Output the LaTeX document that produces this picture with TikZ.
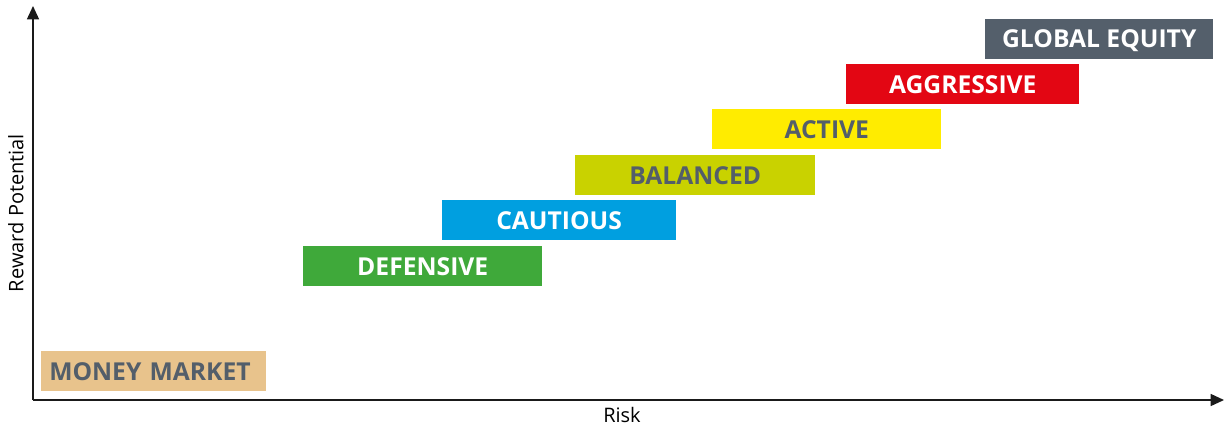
\documentclass[tikz,border=0pt]{standalone}
\usepackage{fontspec}
\setmainfont{Open Sans}
\usetikzlibrary{arrows.meta}
\definecolor{mmcol}{HTML}{E8C38C}
\definecolor{defcol}{HTML}{3FA93A}
\definecolor{caucol}{HTML}{009FE0}
\definecolor{balcol}{HTML}{C9D200}
\definecolor{actcol}{HTML}{FFEC00}
\definecolor{aggcol}{HTML}{E30613}
\definecolor{glocol}{HTML}{545F6B}
\definecolor{darktxt}{HTML}{535E6A}
\definecolor{axiscol}{HTML}{1A1A1A}
\tikzset{
  fundbox/.style={rectangle, inner sep=0pt, minimum height=30pt, anchor=north west,
    font=\fontsize{18.5}{20}\selectfont\bfseries, text height=13.2pt, text depth=0pt},
  axisline/.style={draw=axiscol, line width=1.1pt, -{Triangle[length=10pt,width=9pt]}},
  axislabel/.style={font=\fontsize{15}{17}\selectfont, text=black}
}
\begin{document}
\begin{tikzpicture}[x=0.75pt, y=-0.75pt]
\useasboundingbox (0,0) rectangle (1224,428);
\coordinate (origin) at (33,400);
\coordinate (ytip) at (33,6);
\coordinate (xtip) at (1224,400);
\draw[axisline] (origin) -- (ytip);
\draw[axisline] (origin) -- (xtip);
\node[axislabel] (risk) at (622,415) {Risk};
\node[axislabel, rotate=90] (reward) at (16,213) {Reward Potential};
\node[fundbox, fill=mmcol, text=darktxt, align=left, inner xsep=6pt, text width=156.75pt] (mm) at (41,351) {MONEY MARKET};
\node[fundbox, fill=defcol, text=white, minimum width=179.25pt] (def) at (303,246) {DEFENSIVE};
\node[fundbox, fill=caucol, text=white, minimum width=175.25pt] (cau) at (442,200) {CAUTIOUS};
\node[fundbox, fill=balcol, text=darktxt, minimum width=180pt] (bal) at (575,155) {BALANCED};
\node[fundbox, fill=actcol, text=darktxt, minimum width=171.75pt] (act) at (712,109) {ACTIVE};
\node[fundbox, fill=aggcol, text=white, minimum width=174.75pt] (agg) at (846,64) {AGGRESSIVE};
\node[fundbox, fill=glocol, text=white, minimum width=171pt] (glo) at (985,18.5) {GLOBAL EQUITY};
\end{tikzpicture}
\end{document}
